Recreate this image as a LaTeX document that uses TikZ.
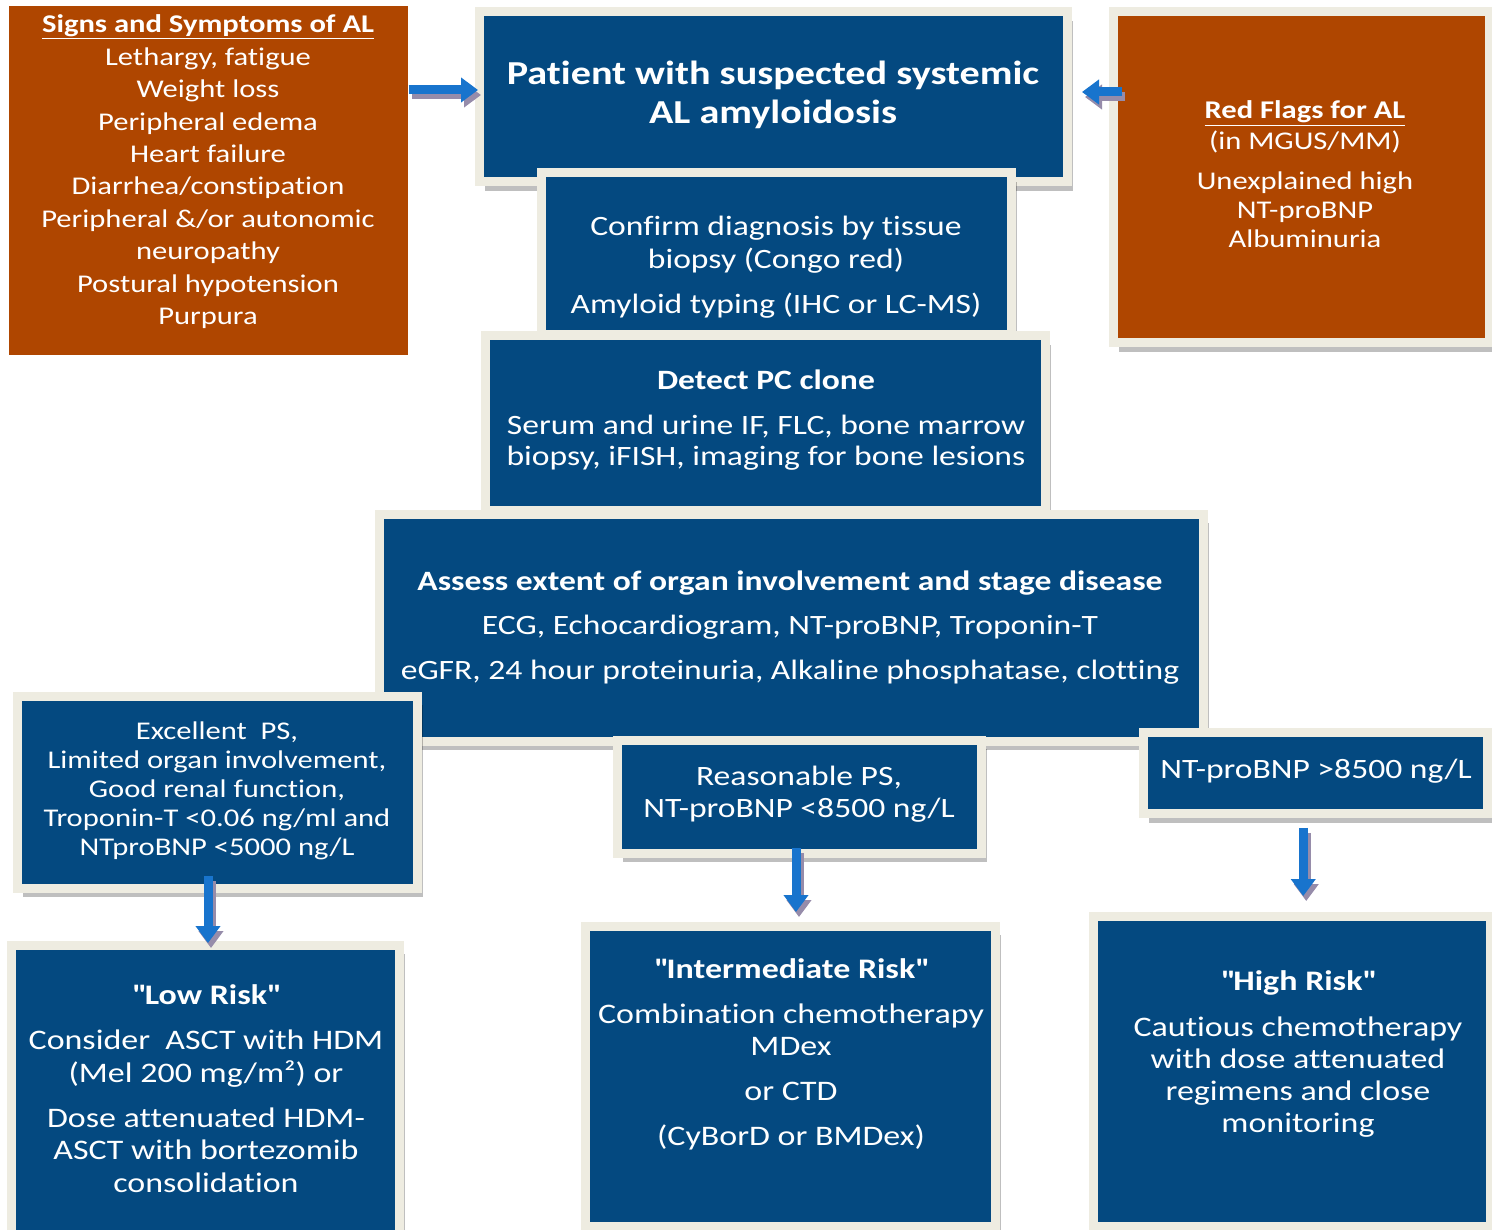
\documentclass[tikz,border=0pt]{standalone}
\usepackage{fontspec}
\setmainfont{Carlito}[FakeStretch=1.2, Ligatures=NoCommon]
\usetikzlibrary{arrows.meta,shadows,calc}
\definecolor{navy}{RGB}{4,73,128}
\definecolor{rust}{RGB}{175,70,0}
\definecolor{cream}{RGB}{238,236,225}
\definecolor{ablue}{RGB}{24,116,205}
\definecolor{ashade}{RGB}{150,140,170}
\newcommand\sq{\XeTeXglyph\XeTeXcharglyph34\relax}
\begin{document}
\begin{tikzpicture}[x=1pt,y=-1pt,
  framebox/.style={draw=cream, line width=9pt, inner sep=0pt, outer sep=0pt,
    drop shadow={shadow xshift=6pt,shadow yshift=-9pt,opacity=0.25,fill=black}},
  navybox/.style={framebox, fill=navy},
  rustbox/.style={framebox, fill=rust},
  plainrust/.style={fill=rust, draw=white, line width=1pt, inner sep=0pt},
  txt/.style={text=white, align=center, inner sep=0pt, anchor=base},
  blockarrow/.style={draw=ablue, line width=9pt, -{Triangle[width=24pt,length=17pt]}},
  arrowshade/.style={draw=ashade, line width=9pt, -{Triangle[width=24pt,length=17pt]}}
]
\useasboundingbox (0,0) rectangle (1492,1230);
\fill[white] (0,0) rectangle (1492,1230);
\clip (0,0) rectangle (1492,1230);

% boxes
\node[plainrust, minimum width=400pt, minimum height=350pt] (signs) at (208,181) {};
\node[navybox, minimum width=588pt, minimum height=170pt] (pat) at (773,97) {};
\node[navybox, minimum width=470pt, minimum height=162pt] (conf) at (776,254) {};
\node[rustbox, minimum width=376pt, minimum height=331pt] (rf) at (1301,177.5) {};
\node[navybox, minimum width=560pt, minimum height=174pt] (det) at (765,423) {};
\node[navybox, minimum width=824pt, minimum height=227pt] (ass) at (791,627.5) {};
\node[navybox, minimum width=400pt, minimum height=192pt] (exc) at (217,792) {};
\node[navybox, minimum width=364pt, minimum height=113pt] (rea) at (799,796.5) {};
\node[navybox, minimum width=344pt, minimum height=81.5pt] (nt) at (1315,773) {};
\node[navybox, minimum width=388pt, minimum height=295pt] (low) at (205,1092.5) {};
\node[navybox, minimum width=410pt, minimum height=300pt] (int) at (790,1076) {};
\node[navybox, minimum width=397pt, minimum height=310pt] (high) at (1291.5,1071) {};

% texts (anchor base = baseline of last line)
\node[txt, font=\fontsize{25.5}{32.4}\selectfont] (tsigns) at (208,324.5)
  {\textbf{\underline{Signs and Symptoms of AL}}\\Lethargy, fatigue\\Weight loss\\Peripheral edema\\Heart failure\\Diarrhea/constipation\\Peripheral \&/or autonomic\\neuropathy\\Postural hypotension\\Purpura};
\node[txt, font=\fontsize{33.5}{39}\selectfont\bfseries] (tpat) at (773,124)
  {Patient with suspected systemic\\AL amyloidosis};
\node[txt, font=\fontsize{28}{33}\selectfont] (tconf) at (776,314)
  {Confirm diagnosis by tissue\\biopsy (Congo red)\\[12pt]Amyloid typing (IHC or LC-MS)};
\node[txt, font=\fontsize{25.5}{29}\selectfont] (trf) at (1305,248)
  {\textbf{\underline{Red Flags for AL}}\\[2pt](in MGUS/MM)\\[11pt]Unexplained high\\NT-proBNP\\Albuminuria};
\node[txt, font=\fontsize{28}{32}\selectfont] (tdet) at (766,466)
  {\textbf{Detect PC clone}\\[13pt]Serum and urine IF, FLC, bone marrow\\biopsy, iFISH, imaging for bone lesions};
\node[txt, font=\fontsize{28}{44.5}\selectfont] (tass) at (790,679)
  {\textbf{Assess extent of organ involvement and stage disease}\\ECG, Echocardiogram, NT-proBNP, Troponin-T\\eGFR, 24 hour proteinuria, Alkaline phosphatase, clotting};
\node[txt, font=\fontsize{25.5}{29}\selectfont] (texc) at (217,855)
  {Excellent~~PS,\\Limited organ involvement,\\Good renal function,\\Troponin-T <0.06 ng/ml and\\NTproBNP <5000 ng/L};
\node[txt, font=\fontsize{28}{32}\selectfont] (trea) at (799,817)
  {Reasonable PS,\\NT-proBNP <8500 ng/L};
\node[txt, font=\fontsize{28}{32}\selectfont] (tnt) at (1316,778)
  {NT-proBNP >8500 ng/L};
\node[txt, font=\fontsize{28.3}{32.5}\selectfont] (tlow) at (206,1192)
  {\textbf{\sq Low Risk\sq}\\[12.5pt]Consider~~ASCT with HDM\\(Mel 200 mg/m²) or\\[12.5pt]Dose attenuated HDM-\\ASCT with bortezomib\\consolidation};
\node[txt, font=\fontsize{28.3}{32}\selectfont] (tint) at (791,1145)
  {\textbf{\sq Intermediate Risk\sq}\\[13pt]Combination chemotherapy\\MDex\\[13pt]or CTD\\[13pt](CyBorD or BMDex)};
\node[txt, font=\fontsize{28.3}{32}\selectfont] (thigh) at (1298,1132)
  {\textbf{\sq High Risk\sq}\\[14pt]Cautious chemotherapy\\with dose attenuated\\regimens and close\\monitoring};

% arrows
\coordinate (m3) at ($(nt.south)!0.5!(high.north)$);
\begin{scope}[transform canvas={shift={(3pt,-5pt)}}]
  \draw[arrowshade, shorten >=1pt] ([yshift=7pt]signs.east |- pat.west) -- ([yshift=7pt]pat.west);
  \draw[arrowshade, shorten <=-9pt, shorten >=15pt] ([yshift=5pt]rf.west |- pat.east) -- ([yshift=5pt]pat.east);
  \draw[arrowshade, shorten <=-12pt, shorten >=2pt] ([xshift=3pt]exc.south -| low.north) -- ([xshift=3pt]low.north);
  \draw[arrowshade, shorten <=-5pt, shorten >=14pt] ([xshift=-3pt]rea.south) -- ([xshift=-3pt]rea.south |- int.north);
  \draw[arrowshade, shorten <=14pt, shorten >=20pt] (nt.south -| m3) -- (high.north -| m3);
\end{scope}
\draw[blockarrow, shorten >=1pt] ([yshift=7pt]signs.east |- pat.west) -- ([yshift=7pt]pat.west);
\draw[blockarrow, shorten <=-9pt, shorten >=15pt] ([yshift=5pt]rf.west |- pat.east) -- ([yshift=5pt]pat.east);
\draw[blockarrow, shorten <=-12pt, shorten >=2pt] ([xshift=3pt]exc.south -| low.north) -- ([xshift=3pt]low.north);
\draw[blockarrow, shorten <=-5pt, shorten >=14pt] ([xshift=-3pt]rea.south) -- ([xshift=-3pt]rea.south |- int.north);
\draw[blockarrow, shorten <=14pt, shorten >=20pt] (nt.south -| m3) -- (high.north -| m3);
\end{tikzpicture}
\end{document}
